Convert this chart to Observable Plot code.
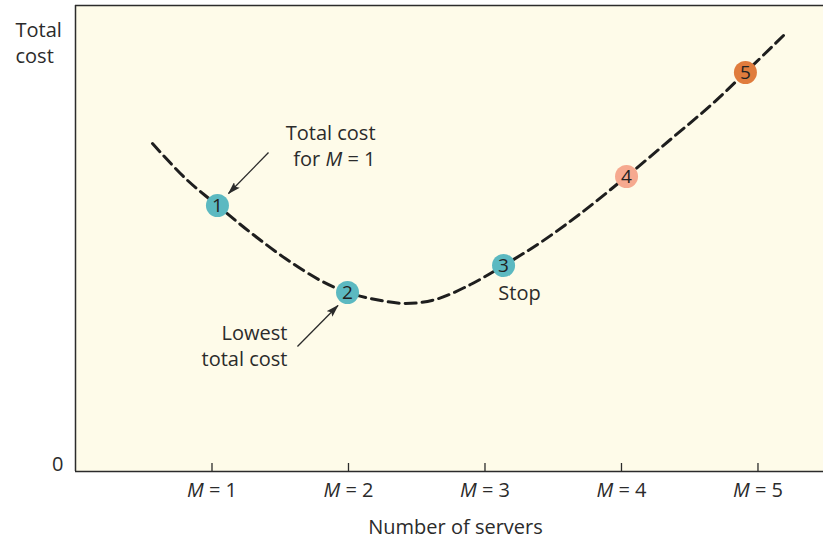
<!DOCTYPE html>
<html>
<head>
<meta charset="utf-8">
<script src="https://cdn.jsdelivr.net/npm/d3@7"></script>
<script src="https://cdn.jsdelivr.net/npm/@observablehq/plot@0.6"></script>
<style>
  html, body { margin: 0; padding: 0; background: #ffffff; }
  #chart svg { display: block; }
</style>
</head>
<body>
<div id="chart"></div>
<script>
// ---- data ----
const xTicks = [1, 2, 3, 4, 5];
const yTicks = [0];
const yTop = 466;

const curveX = [0.564, 0.806, 1.040, 1.282, 1.538, 1.795, 1.993, 2.198, 2.418, 2.637, 2.894, 3.136, 3.407, 3.700, 4.037, 4.359, 4.652, 4.908, 5.187];
const curveY = [328, 293, 266, 239, 213, 191, 179, 172, 168, 172, 187, 206, 229, 258, 295, 332, 366, 399, 436];

const pointX = [1.040, 1.993, 3.136, 4.037, 4.908];
const pointY = [266, 179, 206, 295, 399];
const pointLabels = ["1", "2", "3", "4", "5"];
const pointColors = ["#5cb9c1", "#5cb9c1", "#5cb9c1", "#f6a98f", "#e07c3d"];

const noteText = ["Total cost\nfor M = 1", "Lowest\ntotal cost", "Stop"];
const noteX = [2.198, 1.553, 3.253];
const noteY = [327, 127, 178];

const arrowX1 = [1.414, 1.626];
const arrowY1 = [319, 125];
const arrowX2 = [1.121, 1.923];
const arrowY2 = [278, 166];

const yTitle = "Total\ncost";
const xTitle = "Number of servers";

// ---- tables ----
const curve = curveX.map((x, i) => ({x, y: curveY[i]}));
const points = pointX.map((x, i) => ({x, y: pointY[i], label: pointLabels[i], color: pointColors[i]}));
const notes = noteText.map((t, i) => ({t, x: noteX[i], y: noteY[i]}));
const arrows = arrowX1.map((x1, i) => ({x1, y1: arrowY1[i], x2: arrowX2[i], y2: arrowY2[i]}));

const ink = "#2b2b2b";
const font = "'Open Sans', sans-serif";
const fs = 20;

const chart = Plot.plot({
  width: 823,
  height: 539,
  marginLeft: 75,
  marginRight: 0,
  marginTop: 5,
  marginBottom: 68,
  style: {fontFamily: font, fontSize: fs + "px", color: ink, background: "#ffffff", overflow: "visible"},
  x: {domain: [0, 5.48], axis: null},
  y: {domain: [0, yTop], axis: null},
  marks: [
    Plot.frame({fill: "#fefbe9", stroke: null}),
    Plot.ruleX([0], {stroke: ink, strokeWidth: 1.5}),
    Plot.ruleY([yTop], {stroke: ink, strokeWidth: 1.5}),
    Plot.ruleY([0], {stroke: ink, strokeWidth: 1.5}),
    Plot.ruleX(xTicks, {y1: 0, y2: 8, stroke: ink, strokeWidth: 1.3}),
    Plot.axisX({ticks: xTicks, tickSize: 0, tickPadding: 11, fontSize: fs, label: null, tickFormat: (d) => "M = " + d}),
    Plot.axisY({ticks: yTicks, tickSize: 0, tickPadding: 12, dy: -7, fontSize: fs, label: null}),
    Plot.line(curve, {x: "x", y: "y", curve: "catmull-rom", stroke: "#1e1e1e", strokeWidth: 3, strokeDasharray: "11,6"}),
    Plot.link(arrows, {x1: "x1", y1: "y1", x2: "x2", y2: "y2", stroke: ink, strokeWidth: 1.3}),
    Plot.dot(points, {x: "x", y: "y", r: 11.5, fill: "color", stroke: null}),
    Plot.text(points, {x: "x", y: "y", text: "label", fill: "#222", fontSize: 19, dy: 0.5}),
    Plot.text(notes.slice(0, 2), {x: "x", y: "y", text: "t", textAnchor: "end", fill: ink, fontSize: fs, lineHeight: 1.33}),
    Plot.text(notes.slice(2), {x: "x", y: "y", text: "t", textAnchor: "middle", fill: ink, fontSize: fs}),
    Plot.text([yTitle], {frameAnchor: "top-left", dx: -60, dy: 13, textAnchor: "start", lineAnchor: "top", lineHeight: 1.3, fill: ink, fontSize: fs}),
    Plot.text([xTitle], {frameAnchor: "bottom", dx: 6, dy: 62, fill: ink, fontSize: fs})
  ]
});

document.getElementById("chart").appendChild(chart);

// italic M in tick labels and annotation
const svg = d3.select(chart);
function italicizeM(sel) {
  sel.each(function () {
    const el = d3.select(this);
    const txt = el.text();
    const m = txt.match(/^(.*?)M(.*)$/);
    if (!m) return;
    el.text(null);
    if (m[1]) el.append("tspan").text(m[1]);
    el.append("tspan").attr("font-style", "italic").text("M");
    el.append("tspan").text(m[2]);
  });
}
italicizeM(svg.selectAll("g[aria-label='x-axis tick label'] text"));
italicizeM(svg.selectAll("g[aria-label='text'] tspan").filter(function () { return /M/.test(d3.select(this).text()); }));

// filled arrowheads
const defs = svg.append("defs");
defs.append("marker")
  .attr("id", "ah")
  .attr("markerUnits", "userSpaceOnUse")
  .attr("viewBox", "0 0 13 8")
  .attr("markerWidth", 13)
  .attr("markerHeight", 8)
  .attr("refX", 12)
  .attr("refY", 4)
  .attr("orient", "auto")
  .append("path")
  .attr("d", "M0,0 L13,4 L0,8 L2.5,4 Z")
  .attr("fill", ink);
svg.selectAll("g[aria-label='link'] path").attr("marker-end", "url(#ah)");
</script>
</body>
</html>
